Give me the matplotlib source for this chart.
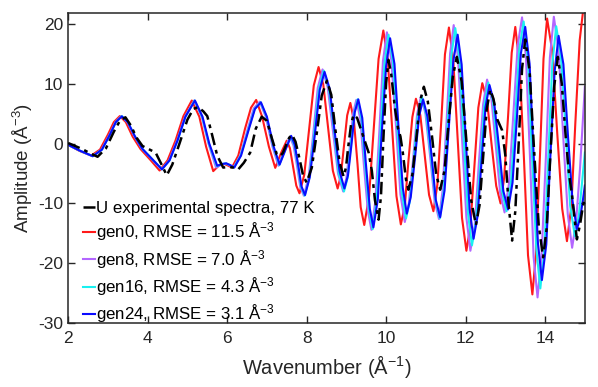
import numpy as np
import matplotlib
matplotlib.use("Agg")
import matplotlib.pyplot as plt

plt.rcParams['font.family'] = ['Liberation Sans', 'DejaVu Sans']
plt.rcParams['mathtext.fontset'] = 'custom'
plt.rcParams['mathtext.rm'] = 'Liberation Sans'
plt.rcParams['mathtext.it'] = 'Liberation Sans'
plt.rcParams['mathtext.default'] = 'regular'
plt.rcParams['axes.unicode_minus'] = False

# (wavenumber, amplitude) points
exp_pts = [(2.00, 0.1), (2.35, -0.9), (2.55, -1.6), (2.74, -2.2), (2.95, -0.8), (3.15, 2.0),
           (3.30, 3.8), (3.44, 4.4), (3.58, 3.0), (3.72, 1.0), (3.87, -0.4), (4.05, -1.0),
           (4.20, -1.5), (4.35, -3.5), (4.48, -5.3), (4.62, -3.5), (4.80, 0.0), (5.00, 4.0),
           (5.15, 5.8), (5.27, 6.1), (5.40, 5.4), (5.50, 4.6), (5.62, 1.5), (5.75, -2.0),
           (5.90, -4.0), (6.05, -3.9), (6.15, -4.0), (6.28, -4.3), (6.42, -3.2), (6.58, -1.5),
           (6.72, 2.5), (6.87, 4.5), (7.00, 3.8), (7.12, 1.0), (7.25, -1.8), (7.33, -2.1),
           (7.40, -1.57), (7.48, -0.3), (7.56, 0.97), (7.63, 1.5), (7.72, 0.33), (7.82, -2.5),
           (7.91, -5.33), (8.00, -6.5), (8.13, -4.02), (8.26, 2.0), (8.38, 8.02), (8.51, 10.5),
           (8.62, 8.16), (8.72, 2.5), (8.83, -3.16), (8.93, -5.5), (8.99, -4.0), (9.05, -0.35),
           (9.12, 3.3), (9.18, 4.8), (9.27, 4.3), (9.36, 2.5), (9.46, 0.5), (9.56, -1.5),
           (9.64, -4.5), (9.72, -9.5), (9.81, -12.7), (9.87, -8.8), (9.93, 0.65), (10.00, 10.1),
           (10.06, 14.0), (10.13, 11.5), (10.22, 6.0), (10.30, 2.5), (10.36, 1.2), (10.42, -1.5),
           (10.50, -6.0), (10.56, -7.7), (10.66, -5.19), (10.76, 0.9), (10.85, 6.99), (10.95, 9.5),
           (11.05, 6.99), (11.16, 0.9), (11.26, -5.19), (11.36, -7.7), (11.47, -4.46), (11.57, 3.4),
           (11.68, 11.26), (11.78, 14.5), (11.90, 10.4), (12.02, 0.45), (12.14, -9.5), (12.26, -13.6),
           (12.35, -10.3), (12.44, -2.3), (12.53, 5.7), (12.62, 9.0), (12.70, 7.5), (12.80, 4.0),
           (12.92, 2.2), (13.00, -2.0), (13.08, -10.0), (13.17, -16.2), (13.25, -11.3), (13.34, 0.6),
           (13.42, 12.5), (13.50, 17.4), (13.61, 12.1), (13.72, -0.8), (13.84, -13.7), (13.95, -19.0),
           (14.04, -14.1), (14.13, -2.25), (14.23, 9.6), (14.32, 14.5), (14.42, 10.0), (14.52, 1.0),
           (14.60, -5.0), (14.68, -8.8), (14.74, -12.5), (14.80, -16.0), (14.88, -13.5),
           (14.95, -10.5), (15.00, -9.0)]

gen0_pts = [(2.00, -0.2), (2.28, -1.2), (2.58, -2.0), (2.80, -1.0), (3.00, 1.5), (3.15, 3.6),
            (3.30, 4.6), (3.45, 3.6), (3.62, 1.2), (3.82, -0.9), (4.08, -2.8), (4.30, -4.5),
            (4.50, -2.8), (4.70, 0.5), (4.90, 4.6), (5.11, 7.2), (5.30, 4.5), (5.47, -0.5),
            (5.65, -4.6), (5.80, -3.6), (5.93, -3.4), (6.03, -3.7), (6.12, -4.0), (6.28, -2.0),
            (6.45, 2.5), (6.60, 6.0), (6.73, 7.3), (6.88, 4.5), (7.05, -0.5), (7.21, -4.05),
            (7.36, -1.5), (7.50, 0.5), (7.58, -0.78), (7.66, -3.9), (7.74, -7.02), (7.82, -8.3),
            (7.94, -5.22), (8.06, 2.25), (8.18, 9.72), (8.30, 12.8), (8.42, 9.84), (8.54, 2.65),
            (8.66, -4.54), (8.78, -7.5), (8.86, -5.41), (8.94, -0.35), (9.02, 4.71), (9.10, 6.8),
            (9.19, 3.82), (9.28, -3.4), (9.36, -10.62), (9.45, -13.6), (9.57, -8.85), (9.69, 2.65),
            (9.81, 14.16), (9.93, 18.9), (10.04, 14.17), (10.15, 2.7), (10.26, -8.77), (10.37, -13.5),
            (10.47, -10.43), (10.56, -3.0), (10.66, 4.43), (10.75, 7.5), (10.86, 4.76), (10.97, -1.9),
            (11.08, -8.56), (11.19, -11.3), (11.29, -6.82), (11.39, 4.05), (11.48, 14.92), (11.58, 19.4),
            (11.69, 13.95), (11.80, 0.75), (11.91, -12.45), (12.02, -17.9), (12.12, -13.81), (12.22, -3.9),
            (12.32, 6.01), (12.42, 10.1), (12.54, 7.17), (12.65, 0.05), (12.77, -7.07), (12.88, -10.0),
            (12.97, -5.69), (13.07, 4.75), (13.16, 15.19), (13.25, 19.5), (13.36, 12.97), (13.47, -2.85),
            (13.57, -18.67), (13.68, -25.2), (13.77, -18.47), (13.87, -2.15), (13.96, 14.17), (14.05, 20.9),
            (14.18, 15.47), (14.30, 2.3), (14.43, -10.87), (14.55, -16.3), (14.66, -10.56), (14.76, 3.35),
            (14.87, 17.26), (14.97, 23.0), (15.00, 22.9)]

gen8_pts = [(2.00, -0.2), (2.30, -1.2), (2.61, -2.1), (2.84, -1.0), (3.04, 1.5), (3.19, 3.6),
            (3.34, 4.6), (3.49, 3.6), (3.67, 1.2), (3.86, -0.9), (4.12, -2.7), (4.35, -4.3),
            (4.54, -2.8), (4.74, 0.5), (4.94, 4.5), (5.17, 7.2), (5.36, 4.5), (5.53, 0.0),
            (5.72, -4.0), (5.86, -3.5), (5.96, -3.3), (6.06, -3.6), (6.16, -4.0), (6.33, -2.0),
            (6.52, 2.5), (6.67, 5.9), (6.82, 7.0), (6.97, 4.5), (7.14, -0.5), (7.29, -3.7),
            (7.44, -1.0), (7.58, 1.1), (7.67, -0.33), (7.76, -3.8), (7.84, -7.27), (7.93, -8.7),
            (8.05, -5.62), (8.17, 1.85), (8.28, 9.32), (8.40, 12.4), (8.53, 9.42), (8.66, 2.2),
            (8.79, -5.02), (8.92, -8.0), (9.00, -5.77), (9.09, -0.35), (9.17, 5.07), (9.25, 7.3),
            (9.35, 4.13), (9.44, -3.55), (9.54, -11.23), (9.63, -14.4), (9.73, -9.58), (9.83, 2.1),
            (9.92, 13.78), (10.02, 18.6), (10.13, 13.97), (10.25, 2.75), (10.36, -8.47), (10.47, -13.1),
            (10.57, -10.02), (10.68, -2.55), (10.78, 4.92), (10.88, 8.0), (10.99, 4.99), (11.11, -2.3),
            (11.22, -9.59), (11.33, -12.6), (11.42, -7.87), (11.52, 3.6), (11.61, 15.07), (11.70, 19.8),
            (11.81, 14.3), (11.91, 0.95), (12.02, -12.4), (12.12, -17.9), (12.23, -13.72), (12.33, -3.6),
            (12.44, 6.52), (12.54, 10.7), (12.65, 7.46), (12.76, -0.4), (12.87, -8.26), (12.98, -11.5),
            (13.09, -6.74), (13.20, 4.8), (13.31, 16.34), (13.42, 21.1), (13.52, 14.27), (13.62, -2.3),
            (13.71, -18.87), (13.81, -25.7), (13.91, -18.85), (14.02, -2.25), (14.12, 14.35), (14.22, 21.2),
            (14.34, 15.56), (14.45, 1.9), (14.57, -11.76), (14.68, -17.4), (14.78, -13.0), (14.88, -4.0),
            (14.96, 5.0), (15.00, 9.5)]

gen16_pts = [(2.00, -0.2), (2.30, -1.2), (2.62, -2.1), (2.85, -1.0), (3.05, 1.5), (3.20, 3.6),
             (3.35, 4.6), (3.50, 3.6), (3.68, 1.2), (3.87, -0.9), (4.13, -2.7), (4.36, -4.3),
             (4.55, -2.8), (4.75, 0.5), (4.95, 4.5), (5.18, 7.2), (5.37, 4.5), (5.54, 0.0),
             (5.74, -3.8), (5.87, -3.4), (5.97, -3.3), (6.07, -3.6), (6.17, -4.0), (6.34, -2.0),
             (6.54, 2.5), (6.69, 5.8), (6.84, 6.9), (6.99, 4.5), (7.16, -0.5), (7.31, -3.6),
             (7.46, -1.0), (7.60, 1.2), (7.69, -0.25), (7.78, -3.75), (7.86, -7.25), (7.95, -8.7),
             (8.07, -5.65), (8.19, 1.75), (8.31, 9.15), (8.43, 12.2), (8.56, 9.25), (8.69, 2.1),
             (8.81, -5.05), (8.94, -8.0), (9.03, -5.75), (9.11, -0.3), (9.20, 5.15), (9.28, 7.4),
             (9.38, 4.23), (9.47, -3.45), (9.57, -11.13), (9.66, -14.3), (9.76, -9.55), (9.86, 1.95),
             (9.96, 13.46), (10.06, 18.2), (10.17, 13.72), (10.28, 2.85), (10.39, -8.02), (10.50, -12.5),
             (10.60, -9.54), (10.70, -2.35), (10.80, 4.84), (10.90, 7.8), (11.01, 4.84), (11.13, -2.35),
             (11.24, -9.54), (11.35, -12.5), (11.45, -7.86), (11.55, 3.4), (11.64, 14.66), (11.74, 19.3),
             (11.85, 14.0), (11.95, 1.15), (12.06, -11.7), (12.16, -17.0), (12.26, -13.03), (12.37, -3.4),
             (12.47, 6.23), (12.57, 10.2), (12.69, 7.06), (12.80, -0.55), (12.92, -8.16), (13.03, -11.3),
             (13.14, -6.67), (13.25, 4.55), (13.35, 15.77), (13.46, 20.4), (13.57, 13.89), (13.67, -1.9),
             (13.78, -17.69), (13.88, -24.2), (13.98, -17.81), (14.08, -2.3), (14.18, 13.21), (14.28, 19.6),
             (14.40, 14.48), (14.52, 2.05), (14.63, -10.38), (14.75, -15.5), (14.85, -12.0),
             (14.93, -6.5), (15.00, -1.5)]

gen24_pts = [(2.00, -0.2), (2.30, -1.2), (2.62, -2.1), (2.85, -1.0), (3.05, 1.5), (3.20, 3.6),
             (3.35, 4.55), (3.50, 3.6), (3.68, 1.2), (3.87, -0.9), (4.13, -2.7), (4.36, -4.3),
             (4.55, -2.8), (4.75, 0.5), (4.95, 4.5), (5.19, 7.2), (5.38, 4.5), (5.55, 0.0),
             (5.75, -3.7), (5.88, -3.4), (5.98, -3.3), (6.08, -3.6), (6.18, -4.0), (6.35, -2.0),
             (6.55, 2.5), (6.70, 5.8), (6.85, 6.9), (7.00, 4.5), (7.17, -0.5), (7.32, -3.5),
             (7.47, -1.0), (7.61, 1.3), (7.70, -0.15), (7.79, -3.65), (7.87, -7.15), (7.96, -8.6),
             (8.08, -5.59), (8.21, 1.7), (8.33, 8.99), (8.45, 12.0), (8.58, 9.15), (8.70, 2.25),
             (8.83, -4.65), (8.95, -7.5), (9.04, -5.32), (9.13, -0.05), (9.21, 5.22), (9.30, 7.4),
             (9.40, 4.28), (9.49, -3.3), (9.59, -10.88), (9.68, -14.0), (9.79, -9.39), (9.89, 1.8),
             (10.00, 12.99), (10.10, 17.6), (10.21, 13.32), (10.31, 2.95), (10.42, -7.42), (10.52, -11.7),
             (10.62, -8.91), (10.73, -2.15), (10.83, 4.61), (10.93, 7.4), (11.04, 4.52), (11.15, -2.45),
             (11.25, -9.42), (11.36, -12.3), (11.47, -7.85), (11.58, 2.95), (11.69, 13.75), (11.80, 18.2),
             (11.90, 13.22), (12.00, 1.15), (12.10, -10.92), (12.20, -15.9), (12.30, -12.15), (12.40, -3.05),
             (12.50, 6.05), (12.60, 9.8), (12.72, 6.76), (12.84, -0.6), (12.95, -7.96), (13.07, -11.0),
             (13.18, -6.55), (13.29, 4.25), (13.39, 15.05), (13.50, 19.5), (13.61, 13.32), (13.71, -1.65),
             (13.82, -16.62), (13.92, -22.8), (14.03, -16.84), (14.13, -2.4), (14.24, 12.04), (14.34, 18.0),
             (14.46, 13.28), (14.57, 1.85), (14.69, -9.58), (14.80, -14.3), (14.88, -12.5),
             (14.95, -9.5), (15.00, -7.0)]

labels = ["U experimental spectra, 77 K",
          "gen0, RMSE = 11.5 Å$^{-3}$",
          "gen8, RMSE = 7.0 Å$^{-3}$",
          "gen16, RMSE = 4.3 Å$^{-3}$",
          "gen24, RMSE = 3.1 Å$^{-3}$"]
colors = ["black", "#ff1a1a", "#b366ff", "#19f0f0", "#0a0aff"]

fig = plt.figure(figsize=(5.98, 3.87), dpi=100)
ax = fig.add_axes([0.114, 0.165, 0.864, 0.801])

handles = []
for pts, lab, col in zip([gen0_pts, gen8_pts, gen16_pts, gen24_pts], labels[1:], colors[1:]):
    k, a = np.array(pts).T
    h, = ax.plot(k, a, color=col, lw=1.5, label=lab, solid_joinstyle='round')
    handles.append(h)

k, a = np.array(exp_pts).T
h_exp, = ax.plot(k, a, color=colors[0], lw=1.8, ls=(0, (5, 2, 1.5, 2)), label=labels[0], zorder=5)
handles.insert(0, h_exp)

ax.set_xlim(2, 15)
ax.set_ylim(-30, 21.8)
ax.set_xticks(np.arange(2, 15, 2))
ax.set_yticks(np.arange(-30, 21, 10))
ax.tick_params(direction='in', top=True, right=True, labelsize=12.5, length=5, width=1,
               colors='#262626')
ax.tick_params(axis='x', pad=6)
for tl in ax.get_xticklabels() + ax.get_yticklabels():
    tl.set_color('#262626')
for s in ax.spines.values():
    s.set_linewidth(1.1)
    s.set_color('#262626')

ax.set_xlabel("Wavenumber (Å$^{-1}$)", fontsize=14.5, color='#262626', labelpad=5)
ax.set_ylabel("Amplitude (Å$^{-3}$)", fontsize=13.5, color='#262626', labelpad=2)

ax.legend(handles=handles, loc='lower left', bbox_to_anchor=(0.0, -0.055), frameon=False,
          fontsize=12.2, handlelength=0.7, handletextpad=0.05, labelspacing=0.27,
          borderaxespad=0.5)

fig.savefig("out.png", dpi=100)
